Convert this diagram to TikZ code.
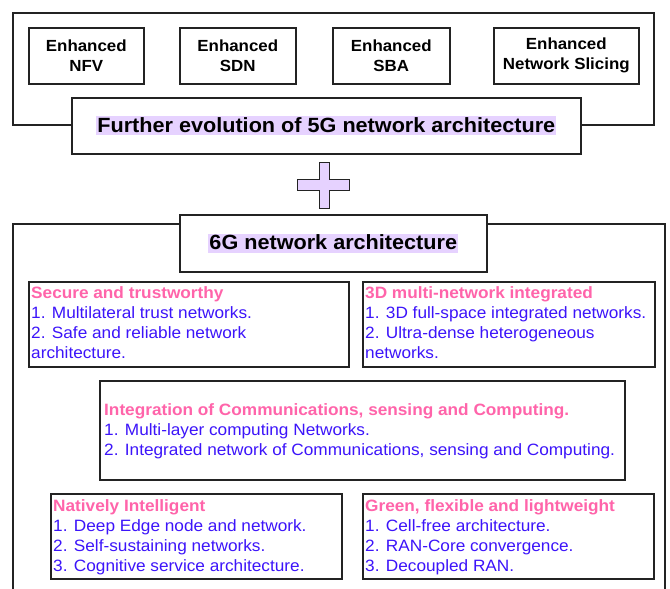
\documentclass[tikz,border=0pt]{standalone}
\usepackage{fontspec}
\setmainfont{Liberation Sans}[FakeStretch=1.05]
\definecolor{pinkh}{RGB}{255,100,170}
\definecolor{blueb}{RGB}{60,20,250}
\definecolor{lav}{RGB}{230,210,255}
\definecolor{edge}{RGB}{35,35,35}
\begin{document}
\begin{tikzpicture}[x=1pt,y=-1pt,
  box/.style={draw=edge,line width=1.6pt,fill=white,anchor=north west,inner sep=0pt},
  frame/.style={draw=edge,line width=1.6pt},
  enh/.style={font=\bfseries\fontsize{16.1}{20}\selectfont,align=center,inner sep=0pt},
  ttl/.style={font=\bfseries\fontsize{20.6}{22}\selectfont,fill=lav,inner xsep=1pt,inner ysep=0pt,text height=16pt,text depth=3pt},
  body/.style={font=\fontsize{16.4}{20}\selectfont,align=left,anchor=north west,inner sep=0pt,text=blueb}
]
\useasboundingbox (0,0) rectangle (670,589);
% outer frames
\draw[frame] (13,125) -- (13,13) -- (654,13) -- (654,125) -- cycle;
\draw[frame] (13,600) -- (13,224) -- (665,224) -- (665,600);
% top boxes
\node[box,minimum width=115pt,minimum height=56pt] (nfv) at (28,27) {};
\node[box,minimum width=116pt,minimum height=56pt] (sdn) at (179,27) {};
\node[box,minimum width=117pt,minimum height=56pt] (sba) at (332,27) {};
\node[box,minimum width=145pt,minimum height=56pt] (slc) at (493,27) {};
\node[enh] (tnfv) at (nfv.center) {Enhanced\\NFV};
\node[enh] (tsdn) at (sdn.center) {Enhanced\\SDN};
\node[enh] (tsba) at (sba.center) {Enhanced\\SBA};
\node[enh] (tslc) at (slc.center) {Enhanced\\Network Slicing};
% further evolution
\node[box,minimum width=509pt,minimum height=56pt] (fev) at (71,97) {};
\node[ttl] (tfev) at (fev.center) {Further evolution of 5G network architecture};
% plus
\draw[draw=edge,line width=1pt,fill=lav] (319,162) -- (329,162) -- (329,179) -- (349,179) -- (349,190) -- (329,190) -- (329,208) -- (319,208) -- (319,190) -- (297,190) -- (297,179) -- (319,179) -- cycle;
% 6G title
\node[box,minimum width=307pt,minimum height=57pt] (g6) at (179,214) {};
\node[ttl] (tg6) at (g6.center) {6G network architecture};
% sub boxes
\node[box,minimum width=320pt,minimum height=85pt] (sec) at (28,281) {};
\node[body] (tsec) at ([shift={(3,5)}]sec.north west) {\textcolor{pinkh}{\bfseries Secure and trustworthy}\\1. Multilateral trust networks.\\2. Safe and reliable network\\architecture.};
\node[box,minimum width=292pt,minimum height=85pt] (d3) at (362,281) {};
\node[body] (td3) at ([shift={(3,5)}]d3.north west) {\textcolor{pinkh}{\bfseries 3D multi-network integrated}\\1. 3D full-space integrated networks.\\2. Ultra-dense heterogeneous\\networks.};
\node[box,minimum width=525pt,minimum height=99pt] (icc) at (99,380) {};
\node[body] (ticc) at ([shift={(5,23)}]icc.north west) {\textcolor{pinkh}{\bfseries Integration of Communications, sensing and Computing.}\\1. Multi-layer computing Networks.\\2. Integrated network of Communications, sensing and Computing.};
\node[box,minimum width=291pt,minimum height=85pt] (nat) at (50,493) {};
\node[body] (tnat) at ([shift={(3,6)}]nat.north west) {\textcolor{pinkh}{\bfseries Natively Intelligent}\\1. Deep Edge node and network.\\2. Self-sustaining networks.\\3. Cognitive service architecture.};
\node[box,minimum width=291pt,minimum height=85pt] (grn) at (362,493) {};
\node[body] (tgrn) at ([shift={(3,6)}]grn.north west) {\textcolor{pinkh}{\bfseries Green, flexible and lightweight}\\1. Cell-free architecture.\\2. RAN-Core convergence.\\3. Decoupled RAN.};
\end{tikzpicture}
\end{document}
